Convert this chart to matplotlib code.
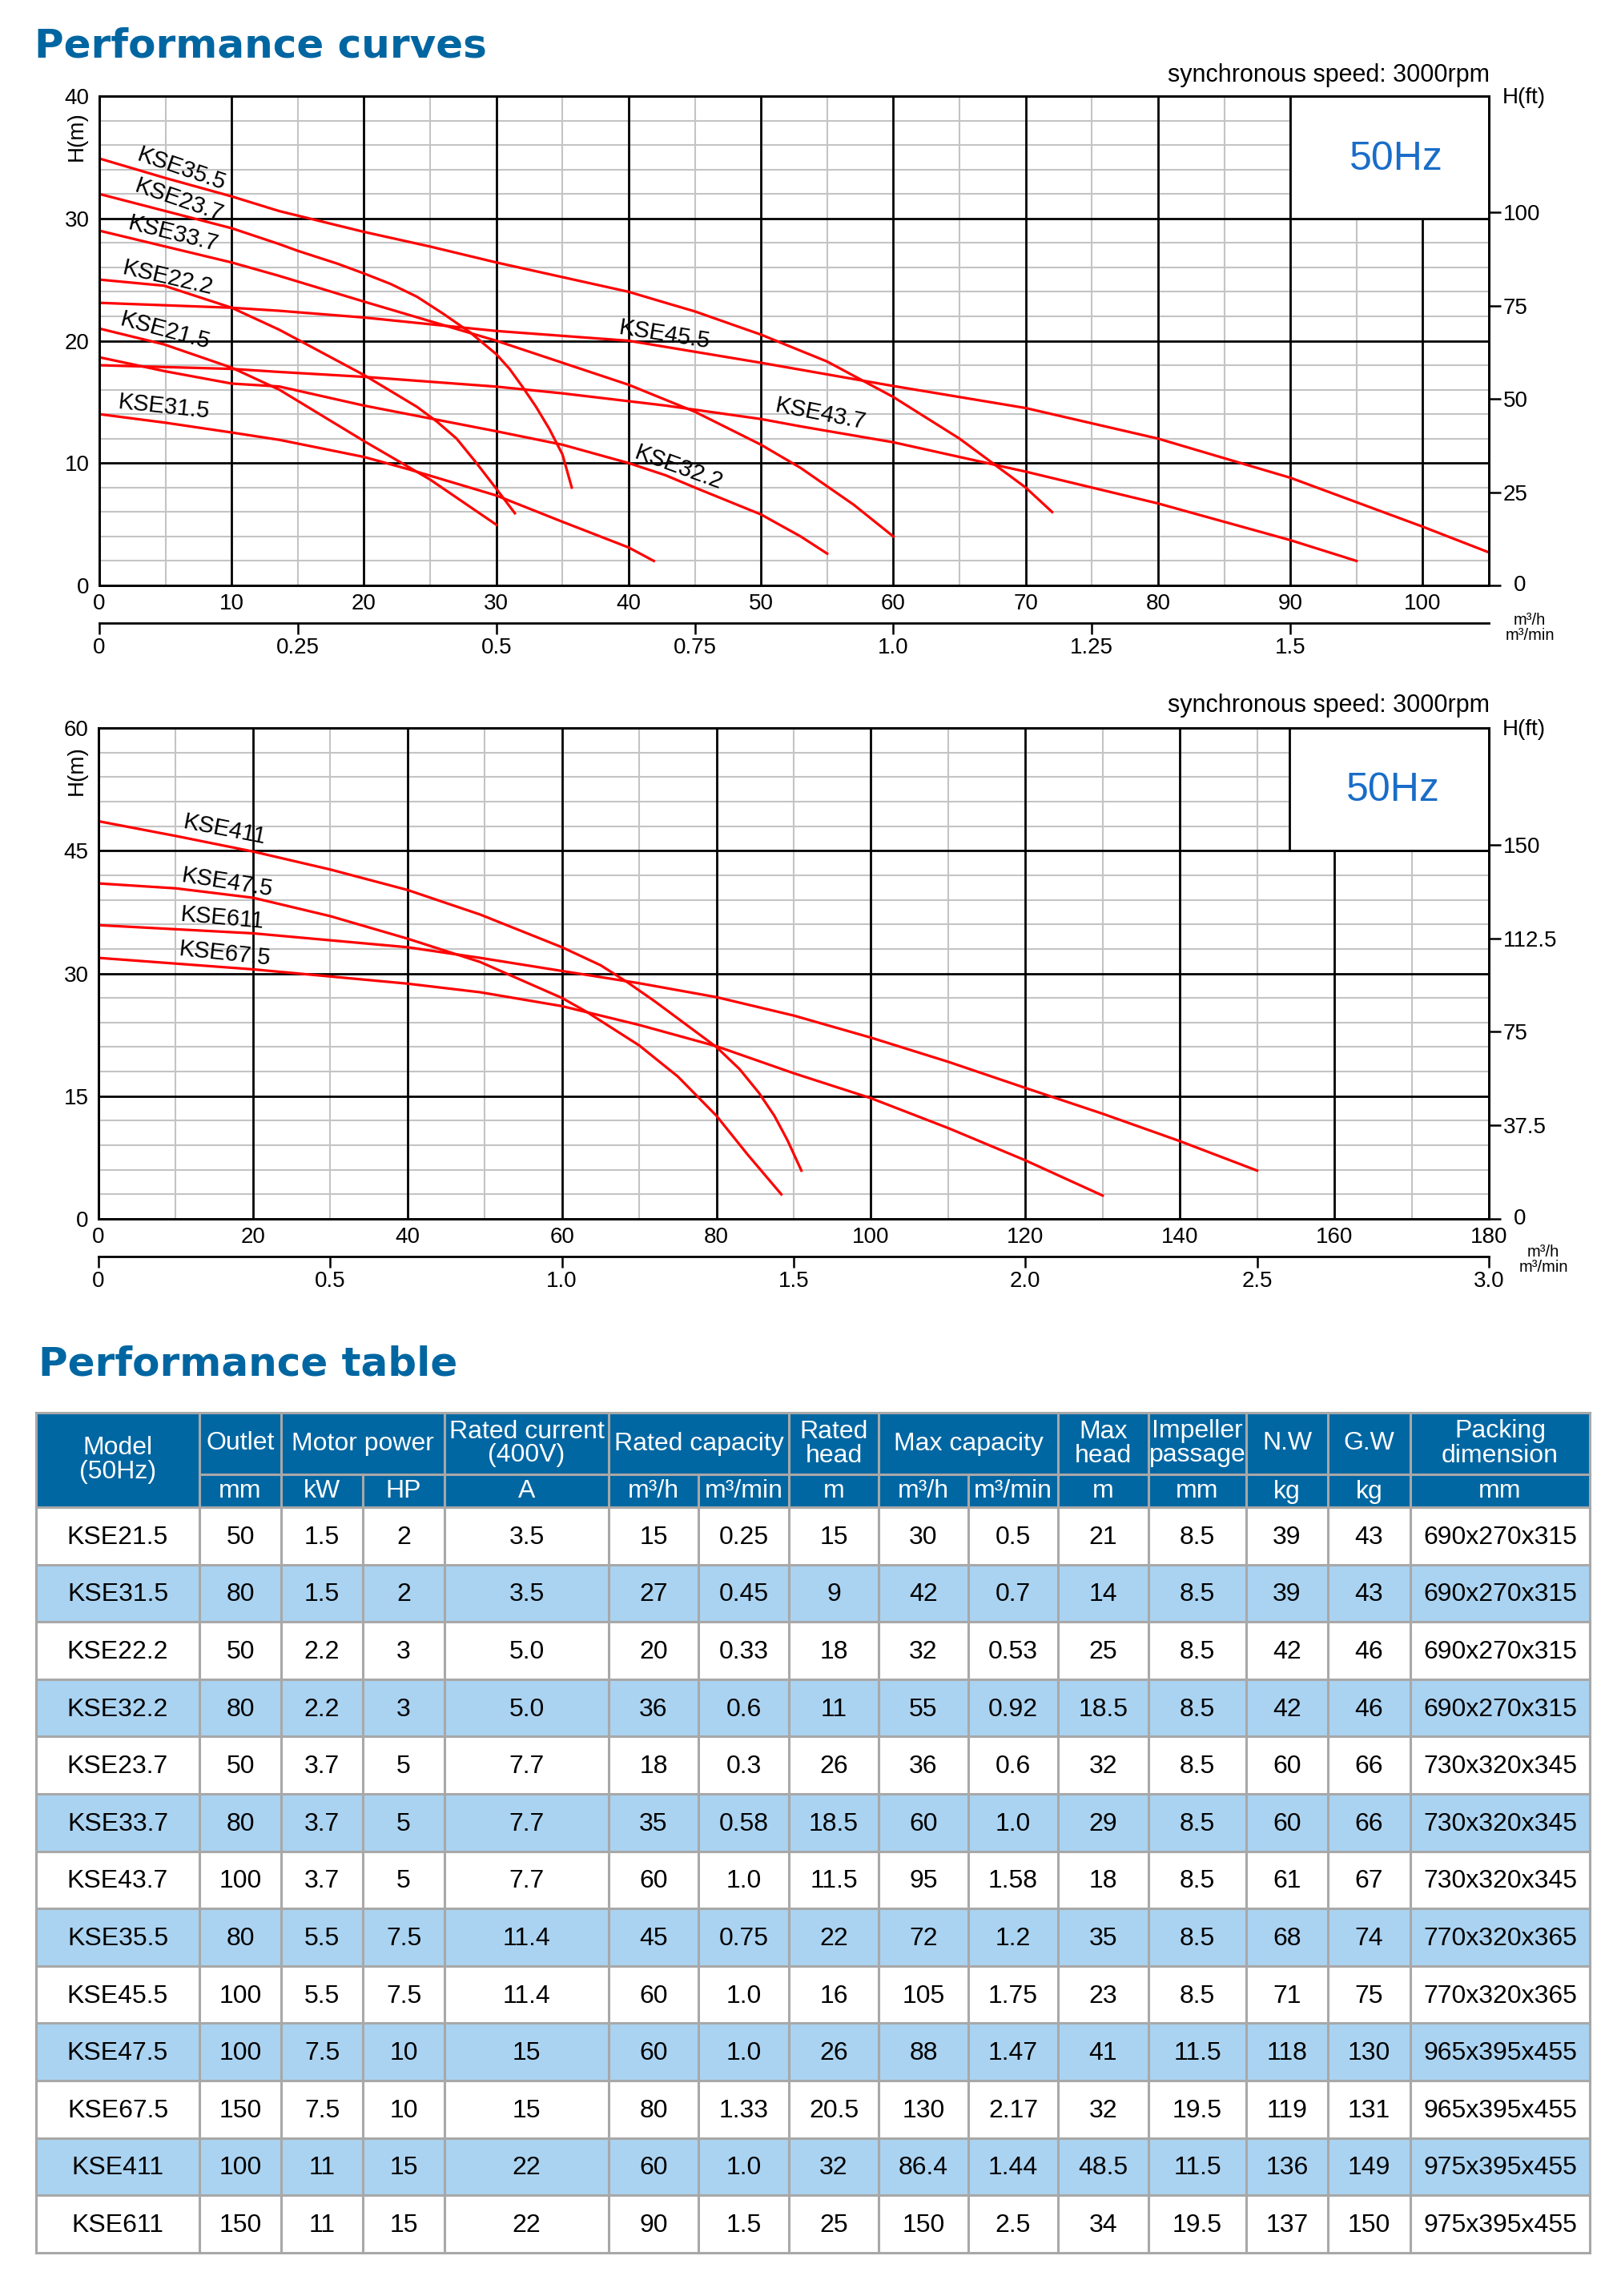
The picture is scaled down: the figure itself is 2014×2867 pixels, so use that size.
import numpy as np
import matplotlib
matplotlib.use("Agg")
import matplotlib.pyplot as plt
from matplotlib.patches import Rectangle

plt.rcParams['font.family'] = ['Liberation Sans', 'DejaVu Sans']

# ---------------- curve data (Q m3/h, H m) ----------------
# upper chart
q_kse35_5 = [0, 5, 10, 13.6, 20, 25, 30, 35, 40, 42.8, 45, 50, 55, 60, 65, 70, 72]
h_kse35_5 = [34.9, 33.3, 31.8, 30.6, 28.9, 27.7, 26.4, 25.2, 24.0, 23.1, 22.4, 20.5, 18.3, 15.4, 12.0, 8.0, 6.0]
q_kse23_7 = [0, 5, 10, 13.6, 15, 18, 20, 22, 24, 26, 28, 30, 31, 32, 33, 34, 35, 35.7]
h_kse23_7 = [32.0, 30.6, 29.2, 27.9, 27.35, 26.3, 25.5, 24.65, 23.6, 22.2, 20.7, 18.9, 17.7, 16.2, 14.6, 12.8, 10.7, 8.0]
q_kse33_7 = [0, 5, 10, 13.6, 20, 25, 30, 35, 40, 45, 50, 53, 57, 60]
h_kse33_7 = [29.0, 27.7, 26.4, 25.3, 23.2, 21.6, 20.0, 18.2, 16.4, 14.2, 11.5, 9.6, 6.6, 4.0]
q_kse22_2 = [0, 4.9, 10, 13.6, 20, 22, 24, 25.5, 27, 28.5, 30, 31.4]
h_kse22_2 = [25.0, 24.5, 22.7, 20.9, 17.2, 15.9, 14.6, 13.4, 12.0, 10.0, 7.9, 5.9]
q_kse21_5 = [0, 4.9, 10, 13.6, 20, 25, 30]
h_kse21_5 = [21.0, 19.7, 17.8, 16.0, 11.8, 8.65, 4.96]
q_kse45_5 = [0, 10, 13.6, 20, 30, 40, 50, 60, 70, 80, 90, 100, 105]
h_kse45_5 = [23.1, 22.7, 22.45, 21.9, 20.8, 20.0, 18.2, 16.3, 14.5, 12.0, 8.8, 4.8, 2.7]
q_kse43_7 = [0, 10, 13.6, 20, 30, 35, 42.8, 50, 53, 60, 70, 80, 90, 95]
h_kse43_7 = [18.0, 17.7, 17.45, 17.05, 16.25, 15.7, 14.7, 13.6, 13.0, 11.7, 9.3, 6.7, 3.7, 2.0]
q_kse32_2 = [0, 5, 10, 13.6, 20, 30, 35, 40, 42.8, 45, 50, 53, 55]
h_kse32_2 = [18.65, 17.5, 16.5, 16.26, 14.7, 12.6, 11.5, 10.0, 9.0, 8.0, 5.8, 4.0, 2.6]
q_kse31_5 = [0, 5, 10, 13.6, 20, 23.35, 30, 35, 40, 41.9]
h_kse31_5 = [14.0, 13.3, 12.5, 11.9, 10.5, 9.5, 7.35, 5.2, 3.1, 2.0]

# lower chart
q_kse411 = [0, 10, 20, 30, 40, 49.4, 60, 65, 68.5, 72, 76, 80, 83, 85.5, 87.5, 89.2, 91]
h_kse411 = [48.6, 46.8, 44.9, 42.7, 40.2, 37.2, 33.2, 31.0, 28.9, 26.6, 23.8, 21.0, 18.3, 15.4, 12.6, 9.6, 5.9]
q_kse47_5 = [0, 10, 20, 30, 40, 49.4, 60, 63.2, 70, 75, 80, 84, 88.4]
h_kse47_5 = [41.0, 40.4, 39.25, 37.0, 34.25, 31.4, 27.0, 25.3, 21.2, 17.4, 12.6, 7.9, 3.0]
q_kse611 = [0, 20, 40, 49.4, 60, 70, 80, 90, 100, 110, 120, 130, 140, 150]
h_kse611 = [35.9, 34.9, 33.2, 31.9, 30.3, 28.8, 27.1, 24.85, 22.15, 19.2, 16.0, 12.85, 9.5, 5.9]
q_kse67_5 = [0, 20, 40, 49.4, 60, 70, 80, 90, 100, 110, 120, 130]
h_kse67_5 = [31.9, 30.5, 28.75, 27.7, 26.0, 23.7, 21.1, 17.8, 14.75, 11.1, 7.15, 2.85]

# curve labels: name, Q, H, rotation
top_labels = [('KSE35.5', 6.2, 34.0, -19), ('KSE23.7', 6.0, 31.5, -19),
              ('KSE33.7', 5.6, 28.7, -14), ('KSE22.2', 5.2, 25.1, -13),
              ('KSE21.5', 5.0, 20.8, -15), ('KSE31.5', 4.9, 14.6, -6),
              ('KSE45.5', 42.7, 20.5, -9), ('KSE43.7', 54.5, 14.0, -11),
              ('KSE32.2', 43.8, 9.6, -20)]
bottom_labels = [('KSE411', 16.3, 47.6, -11), ('KSE47.5', 16.7, 41.1, -9),
                 ('KSE611', 16.0, 36.75, -5), ('KSE67.5', 16.3, 32.4, -6)]

# ---------------- table data ----------------
models = ['KSE21.5', 'KSE31.5', 'KSE22.2', 'KSE32.2', 'KSE23.7', 'KSE33.7', 'KSE43.7',
          'KSE35.5', 'KSE45.5', 'KSE47.5', 'KSE67.5', 'KSE411', 'KSE611']
outlet = ['50', '80', '50', '80', '50', '80', '100', '80', '100', '100', '150', '100', '150']
power_kw = ['1.5', '1.5', '2.2', '2.2', '3.7', '3.7', '3.7', '5.5', '5.5', '7.5', '7.5', '11', '11']
power_hp = ['2', '2', '3', '3', '5', '5', '5', '7.5', '7.5', '10', '10', '15', '15']
current_a = ['3.5', '3.5', '5.0', '5.0', '7.7', '7.7', '7.7', '11.4', '11.4', '15', '15', '22', '22']
rated_qh = ['15', '27', '20', '36', '18', '35', '60', '45', '60', '60', '80', '60', '90']
rated_qmin = ['0.25', '0.45', '0.33', '0.6', '0.3', '0.58', '1.0', '0.75', '1.0', '1.0', '1.33', '1.0', '1.5']
rated_head = ['15', '9', '18', '11', '26', '18.5', '11.5', '22', '16', '26', '20.5', '32', '25']
max_qh = ['30', '42', '32', '55', '36', '60', '95', '72', '105', '88', '130', '86.4', '150']
max_qmin = ['0.5', '0.7', '0.53', '0.92', '0.6', '1.0', '1.58', '1.2', '1.75', '1.47', '2.17', '1.44', '2.5']
max_head = ['21', '14', '25', '18.5', '32', '29', '18', '35', '23', '41', '32', '48.5', '34']
impeller = ['8.5', '8.5', '8.5', '8.5', '8.5', '8.5', '8.5', '8.5', '8.5', '11.5', '19.5', '11.5', '19.5']
net_w = ['39', '39', '42', '42', '60', '60', '61', '68', '71', '118', '119', '136', '137']
gross_w = ['43', '43', '46', '46', '66', '66', '67', '74', '75', '130', '131', '149', '150']
packing = ['690x270x315'] * 4 + ['730x320x345'] * 3 + ['770x320x365'] * 2 + \
          ['965x395x455'] * 2 + ['975x395x455'] * 2

head_groups = [(0, 1, 'Model\n(50Hz)'), (1, 2, 'Outlet'), (2, 4, 'Motor power'),
               (4, 5, 'Rated current\n(400V)'), (5, 7, 'Rated capacity'), (7, 8, 'Rated\nhead'),
               (8, 10, 'Max capacity'), (10, 11, 'Max\nhead'), (11, 12, 'Impeller\npassage'),
               (12, 13, 'N.W'), (13, 14, 'G.W'), (14, 15, 'Packing\ndimension')]
head_units = ['mm', 'kW', 'HP', 'A', 'm³/h', 'm³/min', 'm', 'm³/h', 'm³/min', 'm',
              'mm', 'kg', 'kg', 'mm']

W, H = 2014, 2867
fig = plt.figure(figsize=(W / 100, H / 100), dpi=100)
fig.patch.set_facecolor('white')

BLUE = '#0067a3'
RED = '#ff0000'
GRID = '#c4c4c4'


def frac(x0, y0, x1, y1):
    return [x0 / W, 1 - y1 / H, (x1 - x0) / W, (y1 - y0) / H]


def ftext(x, y, s, **kw):
    fig.text(x / W, 1 - y / H, s, **kw)


def chart(rect, qmax, qmaj, hmax, hmaj, hmin, curves, labels,
          ft_ticks, ft_text, min_ticks, min_text, box_q, hz_xy):
    ax = fig.add_axes(frac(*rect))
    ax.set_xlim(0, qmax)
    ax.set_ylim(0, hmax)
    for q in np.arange(qmaj / 2, qmax, qmaj):
        ax.axvline(q, color=GRID, lw=1.5, zorder=1)
    for h in np.arange(hmin, hmax, hmin):
        if h % hmaj:
            ax.axhline(h, color=GRID, lw=1.5, zorder=1)
    for q in np.arange(qmaj, qmax, qmaj):
        ax.axvline(q, color='black', lw=2.0, zorder=2)
    for h in np.arange(hmaj, hmax, hmaj):
        ax.axhline(h, color='black', lw=2.0, zorder=2)
    ax.add_patch(Rectangle((box_q, hmax - hmaj), qmax - box_q, hmaj,
                           facecolor='white', edgecolor='black', lw=2.0, zorder=3))
    ax.text(hz_xy[0], hz_xy[1], '50Hz', color='#1a6dc8', fontsize=36,
            ha='center', va='center', zorder=5)

    for q, h in curves:
        ax.plot(q, h, color=RED, lw=2.3, zorder=4, solid_joinstyle='round')
    for name, q, h, rot in labels:
        ax.text(q, h, name, fontsize=21, rotation=rot, rotation_mode='anchor',
                ha='center', va='center', zorder=5)

    xt = np.arange(0, qmax + 0.1, qmaj)
    ax.set_xticks(xt)
    ax.set_xticklabels([str(int(v)) for v in xt])
    yt = np.arange(0, hmax + 0.1, hmaj)
    ax.set_yticks(yt)
    ax.set_yticklabels([str(int(v)) for v in yt])
    ax.tick_params(axis='x', length=0, labelsize=20, pad=7)
    ax.tick_params(axis='y', length=0, labelsize=20, pad=9)
    for s in ax.spines.values():
        s.set_linewidth(2.0)

    # head in feet on the right; the "0" sits a little further out, as in the original
    axr = ax.twinx()
    axr.set_ylim(0, hmax / 0.3048)
    axr.set_yticks(ft_ticks)
    axr.set_yticklabels([''] + ft_text[1:])
    axr.tick_params(axis='y', direction='out', length=11, width=1.8, labelsize=20, pad=2)
    axr.text(1.018, 0, ft_text[0], transform=axr.transAxes, fontsize=20,
             ha='left', va='center')
    for s in axr.spines.values():
        s.set_linewidth(2.0)

    axm = ax.twiny()
    axm.set_xlim(0, qmax / 60)
    axm.xaxis.set_ticks_position('bottom')
    axm.spines['bottom'].set_position(('outward', 34))
    for s in ['top', 'left', 'right']:
        axm.spines[s].set_visible(False)
    axm.spines['bottom'].set_linewidth(2.0)
    axm.set_xticks(min_ticks)
    axm.set_xticklabels(min_text)
    axm.tick_params(axis='x', direction='out', length=10, width=1.8, labelsize=20, pad=3)
    return ax


top_curves = [(q_kse35_5, h_kse35_5), (q_kse23_7, h_kse23_7), (q_kse33_7, h_kse33_7),
              (q_kse22_2, h_kse22_2), (q_kse21_5, h_kse21_5), (q_kse45_5, h_kse45_5),
              (q_kse43_7, h_kse43_7), (q_kse32_2, h_kse32_2), (q_kse31_5, h_kse31_5)]
chart((124, 120, 1859, 731), 105, 10, 40, 10, 2, top_curves, top_labels,
      [0, 25, 50, 75, 100], ['0', '25', '50', '75', '100'],
      [0, 0.25, 0.5, 0.75, 1.0, 1.25, 1.5], ['0', '0.25', '0.5', '0.75', '1.0', '1.25', '1.5'],
      90, (98, 34.8))

bottom_curves = [(q_kse411, h_kse411), (q_kse47_5, h_kse47_5),
                 (q_kse611, h_kse611), (q_kse67_5, h_kse67_5)]
chart((123, 909, 1859, 1522), 180, 20, 60, 15, 3, bottom_curves, bottom_labels,
      [0, 37.5, 75, 112.5, 150], ['0', '37.5', '75', '112.5', '150'],
      [0, 0.5, 1.0, 1.5, 2.0, 2.5, 3.0], ['0', '0.5', '1.0', '1.5', '2.0', '2.5', '3.0'],
      154.2, (167.6, 52.4))

# axis captions
title_kw = dict(fontsize=36, color='#0066a1', fontweight='bold',
                family=['DejaVu Sans'], ha='left', va='baseline')
ftext(43, 71, 'Performance curves', **title_kw)
ftext(48, 1717, 'Performance table', **title_kw)
for y_sync, y_ft, y_hm in [(94, 122, 170), (881, 911, 962)]:
    ftext(1860, y_sync, 'synchronous speed: 3000rpm', fontsize=22, ha='right', va='center')
    ftext(1876, y_ft, 'H(ft)', fontsize=20, ha='left', va='center')
    ftext(96, y_hm, 'H(m)', fontsize=20, rotation=90, ha='center', va='center')
unit_kw = dict(fontsize=14.5, ha='center', va='center', linespacing=1.05,
               multialignment='center')
ftext(1910, 784, 'm³/h\nm³/min', **unit_kw)
ftext(1927, 1573, 'm³/h\nm³/min', **unit_kw)

# ---------------- table ----------------
tax = fig.add_axes([0, 0, 1, 1], zorder=-1)
tax.set_xlim(0, W)
tax.set_ylim(H, 0)
tax.axis('off')

col_x = [45, 249, 351, 453, 555, 760, 872, 985, 1097, 1209, 1321, 1434, 1556, 1658, 1761, 1985]
t_top, t_mid, t_bot = 1764, 1841, 1882
row_h = 71.6
LINE = '#a8a8a8'
n = len(models)
t_end = t_bot + n * row_h

tax.add_patch(Rectangle((col_x[0], t_top), col_x[-1] - col_x[0], t_bot - t_top,
                        facecolor=BLUE, edgecolor='none'))
for i in range(n):
    fc = 'white' if i % 2 == 0 else '#aad3f1'
    tax.add_patch(Rectangle((col_x[0], t_bot + i * row_h), col_x[-1] - col_x[0], row_h,
                            facecolor=fc, edgecolor='none'))

# cell borders
tax.plot([col_x[0], col_x[-1]], [t_top, t_top], color=LINE, lw=2.2)
tax.plot([col_x[1], col_x[-1]], [t_mid, t_mid], color=LINE, lw=2.2)
for i in range(n + 1):
    y = t_bot + i * row_h
    tax.plot([col_x[0], col_x[-1]], [y, y], color=LINE, lw=2.2)
for x in col_x:
    tax.plot([x, x], [t_mid, t_end], color=LINE, lw=2.2)
for c0, c1, _ in head_groups:
    tax.plot([col_x[c0], col_x[c0]], [t_top, t_mid], color=LINE, lw=2.2)
tax.plot([col_x[-1], col_x[-1]], [t_top, t_mid], color=LINE, lw=2.2)

for c0, c1, txt in head_groups:
    yc = (t_top + t_bot) / 2 if c0 == 0 else (t_top + t_mid) / 2
    tax.text((col_x[c0] + col_x[c1]) / 2, yc, txt, color='white', fontsize=23,
             ha='center', va='center', linespacing=1.0, multialignment='center')
for j, u in enumerate(head_units):
    tax.text((col_x[j + 1] + col_x[j + 2]) / 2, (t_mid + t_bot) / 2 + 1, u,
             color='white', fontsize=23, ha='center', va='center')

columns = [models, outlet, power_kw, power_hp, current_a, rated_qh, rated_qmin, rated_head,
           max_qh, max_qmin, max_head, impeller, net_w, gross_w, packing]
for j, col in enumerate(columns):
    xc = (col_x[j] + col_x[j + 1]) / 2
    for i, v in enumerate(col):
        tax.text(xc, t_bot + (i + 0.5) * row_h + 2, v, fontsize=23,
                 ha='center', va='center', color='black')

fig.savefig('out.png', dpi=100, facecolor='white')
